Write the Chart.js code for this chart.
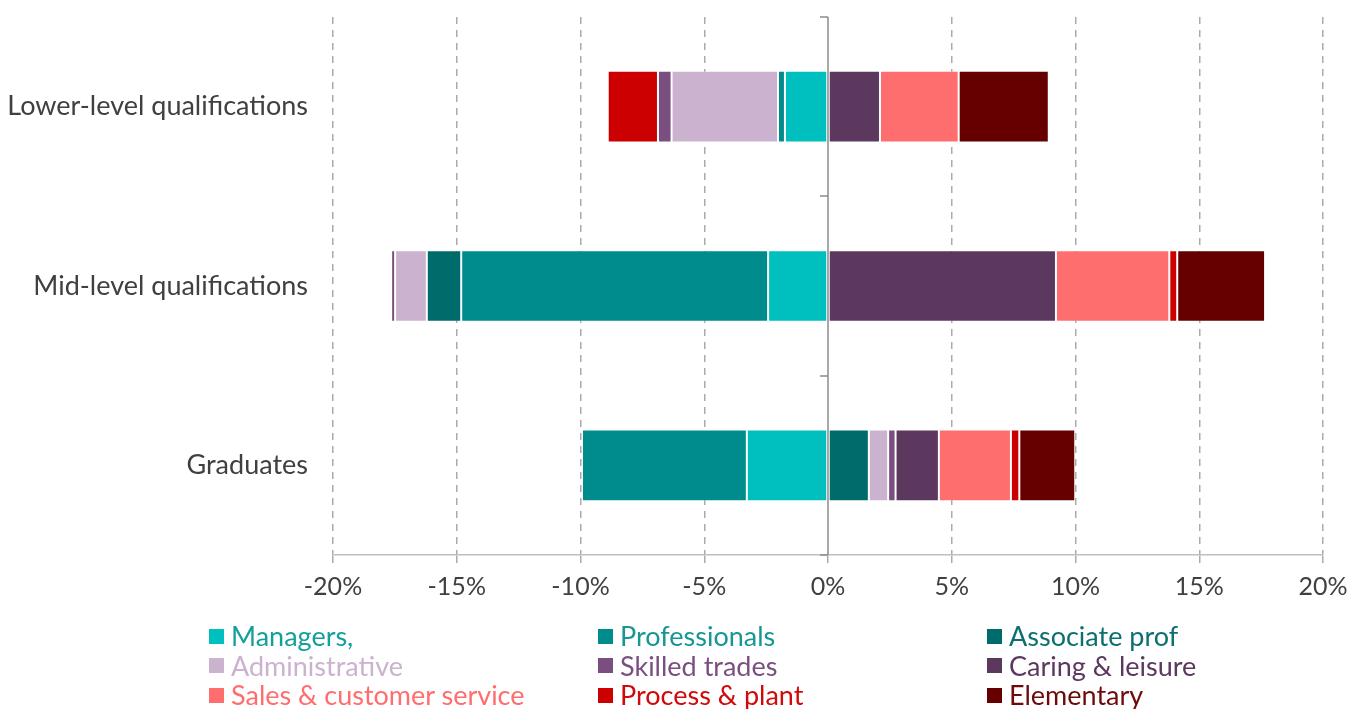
<!DOCTYPE html>
<html>
<head>
<meta charset="utf-8">
<title>Occupational change by qualification level</title>
<script src="https://cdn.jsdelivr.net/npm/chart.js@4"></script>
<style>
  html, body { margin: 0; padding: 0; background: #fff; }
  #wrap { position: relative; width: 1363px; height: 709px; overflow: hidden; }
  #occChart { display: block; }
  #legend { position: absolute; left: 0; top: 0; width: 100%; height: 100%; pointer-events: none;
            font-family: Lato, "Noto Sans", sans-serif; font-size: 27px; }
  .lg-item { position: absolute; display: flex; align-items: center; height: 30px; line-height: 30px; white-space: nowrap; }
  .lg-box { width: 15px; height: 15px; margin-right: 7px; flex: none; }
</style>
</head>
<body>
<div id="wrap">
  <canvas id="occChart" width="1363" height="709"></canvas>
  <div id="legend"></div>
</div>
<script>
// ─── DATA (percentage points) ───────────────────────────────
const categories = ['Lower-level qualifications', 'Mid-level qualifications', 'Graduates'];

const seriesNames = [
  'Managers,', 'Professionals', 'Associate prof',
  'Administrative', 'Skilled trades', 'Caring & leisure',
  'Sales & customer service', 'Process & plant', 'Elementary'
];

const managers      = [-1.74,  -2.42, -3.28];
const professionals = [-0.28, -12.40, -6.66];
const associateProf = [ 0.00,  -1.39,  1.65];
const administrative= [-4.30,  -1.28,  0.78];
const skilledTrades = [-0.55,  -0.16,  0.30];
const caringLeisure = [ 2.10,   9.21,  1.75];
const salesService  = [ 3.18,   4.58,  2.91];
const processPlant  = [-2.03,   0.32,  0.34];
const elementary    = [ 3.64,   3.55,  2.26];

const seriesValues = [
  managers, professionals, associateProf,
  administrative, skilledTrades, caringLeisure,
  salesService, processPlant, elementary
];

const xTicks = [-20, -15, -10, -5, 0, 5, 10, 15, 20];

// ─── STYLE ─────────────────────────────────────────────────
const COLOURS = ['#00BFBF', '#008C8C', '#006B6B', '#CBB2CF', '#7A4F80', '#5C385F', '#FF6E6E', '#CC0000', '#660000'];
const TEXT_COLOURS = ['#13A09C', '#189696', '#0C7070', '#CBB2CF', '#7A4F80', '#5C385F', '#FF6E6E', '#D00A0A', '#6E0A0A'];
const FONT = 'Lato, "Noto Sans", sans-serif';
const GRID = '#ABABAB';

// solid axis at 0% with short ticks between the category bands
const zeroLine = {
  id: 'zeroLine',
  afterDatasetsDraw(chart) {
    const { ctx, chartArea, scales: { x, y } } = chart;
    const px = Math.round(x.getPixelForValue(0));
    ctx.save();
    ctx.strokeStyle = '#8C8C8C';
    ctx.lineWidth = 1.5;
    ctx.beginPath();
    ctx.moveTo(px, chartArea.top);
    ctx.lineTo(px, chartArea.bottom);
    for (let i = 0; i <= categories.length; i++) {
      const py = Math.round(y.getPixelForValue(i - 0.5));
      ctx.moveTo(px - 8, py);
      ctx.lineTo(px, py);
    }
    ctx.stroke();
    ctx.restore();
  }
};

const chart = new Chart(document.getElementById('occChart'), {
  type: 'bar',
  data: {
    labels: categories,
    datasets: seriesNames.map((name, i) => ({
      label: name,
      data: seriesValues[i],
      backgroundColor: COLOURS[i],
      borderColor: 'rgba(255,255,255,0.3)',
      borderWidth: 1,
      borderSkipped: false,
      barPercentage: 0.4,
      categoryPercentage: 1,
    })),
  },
  options: {
    indexAxis: 'y',
    responsive: false,
    animation: false,
    layout: { padding: { top: 17, right: 40, bottom: 94, left: 0 } },
    plugins: { legend: { display: false }, tooltip: { enabled: false } },
    scales: {
      x: {
        stacked: true,
        min: xTicks[0],
        max: xTicks[xTicks.length - 1],
        afterBuildTicks: s => { s.ticks = xTicks.map(v => ({ value: v })); },
        afterFit: s => { s.height = 60; },
        ticks: {
          callback: v => v + '%',
          font: { family: FONT, size: 25 },
          color: '#404040',
          padding: 9,
          maxRotation: 0,
        },
        grid: {
          color: c => (c.tick && c.tick.value === 0 ? 'rgba(0,0,0,0)' : GRID),
          lineWidth: 1.5,
          tickLength: 8,
          tickColor: GRID,
        },
        border: { display: true, color: '#BFBFBF', width: 1.5, dash: [7, 6] },
      },
      y: {
        stacked: true,
        afterFit: s => { s.width = 333; s.paddingTop = 0; s.paddingBottom = 0; },
        grid: { display: false, drawTicks: false },
        border: { display: false },
        ticks: { font: { family: FONT, size: 27 }, color: '#404040', padding: 25 },
      },
    },
  },
  plugins: [zeroLine],
});

// ─── LEGEND ────────────────────────────────────────────────
function buildLegend() {
  const legend = document.getElementById('legend');
  legend.innerHTML = seriesNames.map((name, i) => {
    const col = i % 3, row = Math.floor(i / 3);
    const left = 209 + col * 389;
    const top  = 621 + row * 29.5;
    return `<div class="lg-item" style="left:${left}px;top:${top}px;color:${TEXT_COLOURS[i]};">
              <span class="lg-box" style="background:${COLOURS[i]};"></span>${name.replace('&', '&amp;')}
            </div>`;
  }).join('');
}
buildLegend();
</script>
</body>
</html>
